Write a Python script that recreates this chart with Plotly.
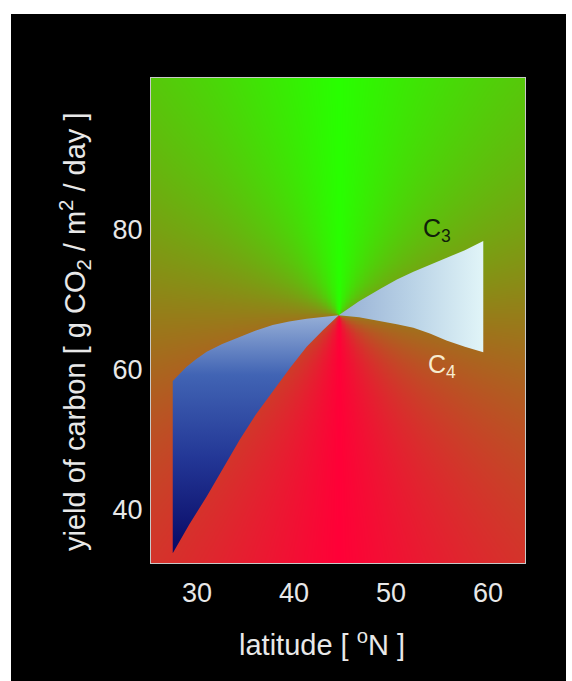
import numpy as np
import plotly.graph_objects as go

# ---- data ----
c4_lat = [27.5, 28.9, 29.9, 31.0, 32.6, 34.4, 36.0, 37.8, 39.5, 41.3, 43.0, 44.6,
          46.7, 48.9, 50.6, 52.3, 54.0, 55.7, 57.6, 59.5]
c4_yield = [58.3, 60.3, 61.4, 62.5, 63.6, 64.6, 65.5, 66.3, 66.8, 67.2, 67.5, 67.7,
            67.4, 66.8, 66.4, 65.9, 65.1, 64.1, 63.2, 62.4]
c3_lat = [27.5, 29.2, 31.0, 32.7, 34.4, 36.1, 37.9, 39.6, 41.3, 43.0, 44.6,
          46.7, 48.9, 50.6, 52.3, 54.0, 55.7, 57.6, 59.5]
c3_yield = [33.7, 37.8, 41.8, 45.9, 49.9, 53.6, 57.0, 60.2, 63.2, 65.6, 67.7,
            69.7, 71.5, 72.8, 73.9, 74.9, 75.8, 77.0, 78.3]
cross_lat, cross_yield = 44.6, 67.7

x_ticks = [30, 40, 50, 60]
y_ticks = [40, 60, 80]
x_range = [25.26, 63.8]
y_range = [32.3, 101.6]

# ---- background conical gradient (decoration) ----
gx = np.linspace(x_range[0] - 0.3, x_range[1] + 0.3, 300)
gy = np.linspace(y_range[0] - 0.3, y_range[1] + 0.3, 360)
GX, GY = np.meshgrid(gx, gy)
ang = np.arctan2(np.abs((GX - cross_lat) * 9.7), (GY - cross_yield) * 7.0) / np.pi

fig = go.Figure()
fig.add_trace(go.Heatmap(
    x=gx, y=gy, z=ang, zsmooth="best", showscale=False, hoverinfo="skip",
    colorscale=[[0, "rgb(40,255,0)"], [0.5, "rgb(150,125,25)"], [1, "rgb(255,0,55)"]],
    zmin=0, zmax=1,
))

# left lobe (C4 above C3)
lx = [v for v in c4_lat if v <= cross_lat] + [v for v in c3_lat if v <= cross_lat][::-1]
ly = [c4_yield[i] for i, v in enumerate(c4_lat) if v <= cross_lat] + \
     [c3_yield[i] for i, v in enumerate(c3_lat) if v <= cross_lat][::-1]
fig.add_trace(go.Scatter(
    x=lx, y=ly, mode="lines", line=dict(width=0), fill="toself", hoverinfo="skip",
    fillgradient=dict(type="vertical", colorscale=[
        [0, "rgb(8,8,100)"], [0.4, "rgb(35,55,150)"], [0.75, "rgb(65,100,180)"],
        [1, "rgb(150,175,215)"]]),
    showlegend=False,
))
# right lobe (C3 above C4)
rx = [v for v in c3_lat if v >= cross_lat] + [v for v in c4_lat if v >= cross_lat][::-1]
ry = [c3_yield[i] for i, v in enumerate(c3_lat) if v >= cross_lat] + \
     [c4_yield[i] for i, v in enumerate(c4_lat) if v >= cross_lat][::-1]
fig.add_trace(go.Scatter(
    x=rx, y=ry, mode="lines", line=dict(width=0), fill="toself", hoverinfo="skip",
    fillgradient=dict(type="horizontal", colorscale=[
        [0, "rgb(150,175,212)"], [0.5, "rgb(185,210,230)"], [1, "rgb(225,245,248)"]]),
    showlegend=False,
))

FONT = "Liberation Sans, Arial, sans-serif"
W, H = 572, 681
L, R, T, B = 151, 525, 78, 563
pw, ph = R - L, B - T

def px_x(p):
    return (p - L) / pw

def px_y(p):
    return (B - p) / ph

fig.add_annotation(x=54.7, y=79.9, text="C<sub>3</sub>", showarrow=False,
                   font=dict(family=FONT, size=25, color="#10200a"))
fig.add_annotation(x=55.2, y=60.4, text="C<sub>4</sub>", showarrow=False,
                   font=dict(family=FONT, size=25, color="#f6ecd0"))

fig.add_annotation(xref="paper", yref="paper", x=px_x(322), y=px_y(643),
                   text="latitude [ <sup>o</sup>N ]", showarrow=False,
                   xanchor="center", yanchor="middle",
                   font=dict(family=FONT, size=29, color="#e8e8e8"))
fig.add_annotation(xref="paper", yref="paper", x=px_x(75), y=px_y(332),
                   text="yield of carbon [ g CO<sub>2</sub> / m<sup>2</sup> / day ]",
                   showarrow=False, textangle=-90, xanchor="center", yanchor="middle",
                   font=dict(family=FONT, size=29, color="#e8e8e8"))

fig.add_shape(type="rect", xref="paper", yref="paper", layer="below",
              x0=px_x(11), x1=px_x(566), y0=px_y(690), y1=px_y(14),
              fillcolor="black", line=dict(width=0))

fig.update_layout(
    width=W, height=H,
    margin=dict(l=L, r=W - R, t=T, b=H - B, pad=0),
    paper_bgcolor="white", plot_bgcolor="black",
    showlegend=False,
    font=dict(family=FONT, size=27, color="#e8e8e8"),
)
fig.update_xaxes(range=x_range, tickvals=x_ticks, showgrid=False, zeroline=False,
                 showline=True, mirror=True, linecolor="#c8c8c8", linewidth=1,
                 ticks="", ticklabelstandoff=6,
                 tickfont=dict(family=FONT, size=27, color="#e8e8e8"))
fig.update_yaxes(range=y_range, tickvals=y_ticks, showgrid=False, zeroline=False,
                 showline=True, mirror=True, linecolor="#c8c8c8", linewidth=1,
                 ticks="", ticklabelstandoff=2,
                 tickfont=dict(family=FONT, size=27, color="#e8e8e8"))

fig.write_html("out.html", config={"displayModeBar": False},
               post_script="document.body.style.margin='0';")
